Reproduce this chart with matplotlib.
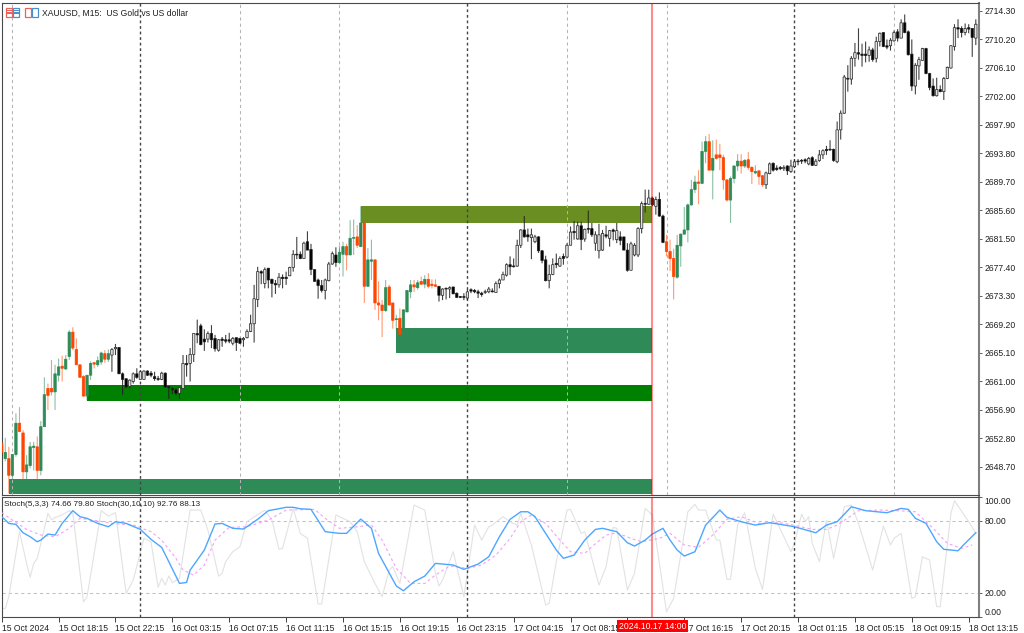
import matplotlib
matplotlib.use("Agg")
import matplotlib.pyplot as plt
from matplotlib.patches import Rectangle
import numpy as np

# XAUUSD M15 candles
opens = [
    2652.1, 2649.9, 2649.9, 2647.5, 2650.5, 2655.0, 2653.6, 2648.0, 2648.9, 2651.5,
    2651.6, 2648.2, 2654.5, 2660.0, 2660.0, 2659.5, 2661.9, 2663.2, 2662.8, 2664.6,
    2668.1, 2665.6, 2663.4, 2661.7, 2658.9, 2661.9, 2663.7, 2663.4, 2663.8, 2665.0,
    2664.2, 2664.8, 2665.7, 2665.9, 2662.1, 2661.4, 2660.3, 2661.0, 2662.1, 2661.3,
    2661.3, 2662.5, 2662.2, 2661.7, 2661.4, 2661.3, 2662.2, 2660.3, 2660.0, 2659.8,
    2659.3, 2660.0, 2663.6, 2663.6, 2664.9, 2667.9, 2669.0, 2667.1, 2667.1, 2667.9,
    2667.2, 2665.5, 2667.1, 2667.0, 2667.0, 2666.5, 2667.3, 2667.2, 2667.0, 2667.3,
    2668.2, 2669.3, 2672.8, 2676.8, 2675.1, 2677.3, 2675.7, 2675.1, 2674.9, 2676.0,
    2676.0, 2676.2, 2677.4, 2679.3, 2679.3, 2678.7, 2681.1, 2680.0, 2677.1, 2675.6,
    2674.8, 2674.1, 2675.5, 2677.9, 2679.2, 2678.1, 2679.3, 2680.4, 2679.2, 2681.6,
    2681.8, 2680.4, 2683.8, 2674.7, 2678.3, 2678.5, 2672.3, 2672.0, 2671.2, 2674.6,
    2672.3, 2669.9, 2670.1, 2668.6, 2671.0, 2673.9, 2674.9, 2674.5, 2675.4, 2675.0,
    2675.7, 2675.0, 2674.9, 2674.7, 2673.4, 2674.4, 2674.3, 2674.6, 2673.7, 2673.2,
    2673.2, 2673.0, 2674.2, 2674.1, 2673.9, 2673.7, 2673.8, 2673.9, 2674.0, 2673.8,
    2675.1, 2675.6, 2676.3, 2677.8, 2677.6, 2677.6, 2680.6, 2682.8, 2682.1, 2681.7,
    2681.1, 2681.8, 2679.8, 2678.5, 2675.5, 2676.4, 2678.0, 2677.6, 2679.0, 2678.9,
    2680.6, 2682.6, 2681.5, 2683.4, 2681.5, 2683.0, 2683.0, 2680.9, 2679.8, 2679.9,
    2682.1, 2681.6, 2682.8, 2681.4, 2681.8, 2681.8, 2679.9, 2677.0, 2679.2, 2679.2,
    2683.0, 2686.6, 2686.5, 2687.4, 2686.2, 2687.2, 2684.8, 2681.1, 2679.7, 2678.7,
    2676.0, 2680.5, 2682.2, 2682.8, 2686.4, 2688.6, 2689.7, 2689.5, 2694.1, 2695.5,
    2691.4, 2693.6, 2693.6, 2693.2, 2690.0, 2687.1, 2690.2, 2692.0, 2692.7, 2692.0,
    2692.9, 2691.8, 2691.0, 2691.3, 2690.6, 2689.3, 2690.9, 2692.4, 2691.7, 2691.8,
    2691.6, 2692.0, 2691.2, 2691.9, 2692.7, 2692.8, 2692.9, 2692.3, 2693.2, 2692.1,
    2692.8, 2693.6, 2694.4, 2694.4, 2694.4, 2692.6, 2697.2, 2699.6, 2704.6, 2704.5,
    2707.5, 2708.3, 2708.1, 2708.1, 2707.9, 2708.7, 2707.5, 2709.9, 2711.2, 2709.3,
    2709.3, 2710.0, 2711.3, 2710.4, 2712.6, 2711.3, 2708.1, 2703.5, 2706.4, 2707.2,
    2708.9, 2705.3, 2703.5, 2702.1, 2703.0, 2702.7, 2704.6, 2706.1, 2709.2, 2711.9,
    2711.8, 2711.2, 2711.9, 2711.8, 2710.4,
]
highs = [
    2652.3, 2652.9, 2651.6, 2650.5, 2656.4, 2657.3, 2654.0, 2650.4, 2652.3, 2652.3,
    2653.1, 2655.3, 2661.6, 2660.7, 2664.1, 2663.4, 2664.3, 2664.7, 2664.8, 2668.4,
    2668.8, 2667.2, 2663.4, 2661.9, 2661.9, 2663.9, 2663.8, 2664.6, 2665.3, 2665.5,
    2665.6, 2665.8, 2666.4, 2665.9, 2662.3, 2661.4, 2661.3, 2662.3, 2662.9, 2662.6,
    2662.6, 2662.6, 2662.5, 2662.4, 2661.8, 2662.4, 2662.3, 2660.3, 2660.2, 2660.1,
    2660.2, 2664.8, 2664.8, 2665.8, 2667.9, 2669.9, 2669.3, 2668.5, 2668.2, 2669.1,
    2667.7, 2667.1, 2667.4, 2667.7, 2668.0, 2667.4, 2667.3, 2667.3, 2667.4, 2668.5,
    2670.6, 2674.9, 2677.5, 2677.0, 2677.4, 2677.3, 2675.8, 2675.6, 2676.6, 2676.4,
    2676.8, 2677.5, 2679.9, 2681.8, 2679.7, 2681.1, 2682.6, 2680.8, 2677.1, 2675.8,
    2675.6, 2675.8, 2678.2, 2679.7, 2680.3, 2680.5, 2681.1, 2680.8, 2684.2, 2684.3,
    2683.5, 2686.2, 2684.0, 2680.2, 2681.4, 2678.5, 2675.4, 2672.7, 2675.6, 2674.9,
    2672.3, 2670.6, 2671.5, 2671.4, 2674.1, 2675.6, 2675.6, 2675.6, 2676.1, 2676.3,
    2676.6, 2675.7, 2675.7, 2674.7, 2674.4, 2674.5, 2674.7, 2674.6, 2673.8, 2673.3,
    2673.7, 2674.2, 2674.4, 2674.3, 2674.2, 2673.9, 2674.2, 2674.6, 2674.4, 2675.4,
    2675.8, 2676.8, 2678.0, 2679.0, 2678.7, 2681.4, 2682.9, 2684.8, 2683.0, 2683.0,
    2682.1, 2681.9, 2679.9, 2679.1, 2677.8, 2678.7, 2679.4, 2679.0, 2679.4, 2680.9,
    2683.3, 2684.1, 2684.0, 2684.0, 2683.0, 2685.6, 2683.8, 2682.6, 2683.7, 2682.8,
    2683.4, 2682.8, 2683.0, 2683.8, 2682.6, 2681.8, 2680.9, 2681.1, 2680.9, 2683.2,
    2686.9, 2688.6, 2688.6, 2687.6, 2687.6, 2688.2, 2685.0, 2682.1, 2681.4, 2680.1,
    2682.1, 2682.3, 2686.1, 2686.6, 2690.0, 2690.6, 2691.4, 2695.5, 2696.3, 2696.6,
    2695.7, 2695.8, 2695.2, 2693.6, 2690.1, 2690.5, 2692.1, 2693.7, 2693.7, 2693.0,
    2694.0, 2692.0, 2692.1, 2691.4, 2690.7, 2691.2, 2692.5, 2692.5, 2692.1, 2692.0,
    2692.1, 2692.1, 2692.9, 2693.0, 2693.0, 2693.0, 2693.1, 2693.3, 2693.4, 2693.0,
    2694.3, 2694.4, 2694.9, 2695.7, 2694.5, 2698.4, 2700.0, 2705.1, 2706.5, 2707.8,
    2709.7, 2711.8, 2709.6, 2709.9, 2709.2, 2709.0, 2710.6, 2711.2, 2711.2, 2710.2,
    2710.4, 2711.5, 2711.7, 2713.1, 2713.8, 2711.5, 2710.2, 2706.8, 2707.7, 2709.0,
    2709.0, 2705.4, 2704.6, 2704.7, 2703.6, 2704.8, 2706.3, 2709.4, 2712.4, 2713.1,
    2712.1, 2712.5, 2712.4, 2711.8, 2713.1,
]
lows = [
    2650.7, 2649.5, 2644.9, 2646.8, 2650.2, 2653.8, 2646.8, 2646.8, 2648.5, 2648.2,
    2646.8, 2647.5, 2654.5, 2656.9, 2659.0, 2656.9, 2661.0, 2661.0, 2662.7, 2664.1,
    2665.5, 2663.4, 2661.6, 2658.8, 2658.3, 2661.2, 2662.9, 2663.1, 2663.4, 2663.7,
    2663.8, 2662.4, 2664.8, 2662.1, 2659.1, 2660.0, 2660.0, 2660.7, 2661.4, 2661.3,
    2661.3, 2661.8, 2661.6, 2661.1, 2661.1, 2661.2, 2660.1, 2658.5, 2659.2, 2659.0,
    2658.5, 2660.0, 2661.7, 2661.0, 2663.8, 2666.5, 2666.2, 2665.4, 2666.6, 2665.8,
    2665.3, 2665.3, 2666.0, 2666.5, 2666.5, 2666.2, 2665.4, 2666.4, 2666.0, 2667.2,
    2668.1, 2666.6, 2671.7, 2675.0, 2674.4, 2674.4, 2673.1, 2673.6, 2674.5, 2674.4,
    2674.9, 2676.2, 2676.8, 2678.6, 2678.6, 2678.7, 2679.9, 2676.3, 2675.4, 2672.9,
    2673.8, 2672.8, 2675.4, 2677.8, 2677.5, 2678.0, 2676.1, 2677.0, 2679.2, 2679.2,
    2680.2, 2680.4, 2672.3, 2674.6, 2675.6, 2671.3, 2669.8, 2667.4, 2671.0, 2672.0,
    2668.6, 2668.4, 2667.7, 2668.6, 2671.0, 2673.0, 2673.9, 2674.2, 2674.9, 2674.4,
    2674.4, 2674.4, 2674.6, 2672.5, 2672.7, 2672.8, 2673.0, 2673.6, 2673.0, 2673.0,
    2672.7, 2672.7, 2673.7, 2673.7, 2673.0, 2673.2, 2673.6, 2673.7, 2673.8, 2673.8,
    2674.4, 2675.6, 2676.1, 2676.3, 2677.4, 2677.5, 2680.2, 2681.7, 2681.1, 2678.6,
    2680.9, 2679.5, 2678.0, 2675.4, 2674.4, 2676.3, 2677.3, 2677.5, 2677.8, 2678.7,
    2680.6, 2681.4, 2681.4, 2679.9, 2681.1, 2682.3, 2681.8, 2679.8, 2678.7, 2679.8,
    2681.6, 2680.4, 2681.3, 2680.9, 2680.6, 2679.9, 2676.8, 2677.0, 2679.0, 2678.9,
    2682.3, 2685.3, 2686.4, 2686.2, 2685.0, 2684.7, 2680.9, 2679.0, 2676.9, 2672.8,
    2675.8, 2677.5, 2682.1, 2681.0, 2686.3, 2688.1, 2686.5, 2689.4, 2692.4, 2691.4,
    2687.2, 2692.9, 2691.4, 2688.6, 2686.9, 2683.8, 2689.5, 2691.3, 2690.9, 2691.7,
    2691.4, 2689.4, 2690.8, 2689.3, 2689.0, 2688.7, 2690.8, 2691.2, 2691.3, 2691.4,
    2691.3, 2690.7, 2691.0, 2691.7, 2692.1, 2692.3, 2692.4, 2692.1, 2692.0, 2692.0,
    2692.6, 2693.0, 2693.6, 2694.2, 2692.6, 2692.4, 2695.8, 2699.5, 2702.7, 2703.7,
    2706.3, 2707.3, 2706.3, 2706.9, 2707.0, 2707.0, 2706.9, 2709.2, 2709.1, 2708.8,
    2708.6, 2709.9, 2709.9, 2710.4, 2711.1, 2707.9, 2702.8, 2702.3, 2704.4, 2707.2,
    2705.2, 2702.9, 2702.0, 2702.0, 2702.6, 2701.5, 2704.5, 2706.0, 2708.6, 2710.4,
    2710.5, 2710.8, 2711.1, 2707.7, 2709.4,
]
closes = [
    2650.8, 2650.8, 2647.5, 2650.5, 2655.0, 2653.8, 2648.0, 2649.0, 2651.6, 2651.7,
    2648.2, 2654.5, 2659.1, 2659.0, 2659.5, 2662.1, 2663.1, 2662.9, 2664.2, 2668.1,
    2665.8, 2663.4, 2661.6, 2658.9, 2661.9, 2663.6, 2663.5, 2664.0, 2665.1, 2664.2,
    2665.0, 2665.6, 2665.9, 2662.1, 2661.3, 2660.2, 2661.2, 2662.1, 2661.6, 2662.4,
    2662.5, 2661.9, 2661.9, 2661.4, 2661.3, 2662.2, 2660.2, 2660.1, 2659.8, 2659.3,
    2660.1, 2663.6, 2663.4, 2664.9, 2667.9, 2667.7, 2666.3, 2666.7, 2667.9, 2667.0,
    2665.7, 2667.0, 2666.9, 2666.8, 2666.8, 2667.2, 2666.6, 2666.5, 2667.2, 2668.2,
    2669.3, 2672.9, 2676.8, 2676.6, 2677.1, 2675.6, 2675.1, 2674.9, 2676.0, 2675.8,
    2675.8, 2677.4, 2679.3, 2679.2, 2678.7, 2680.9, 2679.9, 2677.1, 2675.4, 2674.8,
    2674.1, 2675.6, 2677.9, 2679.4, 2678.1, 2679.6, 2680.4, 2679.2, 2681.6, 2681.7,
    2680.6, 2683.8, 2674.7, 2678.5, 2678.5, 2672.3, 2672.0, 2671.2, 2674.5, 2672.0,
    2669.8, 2670.0, 2667.8, 2671.3, 2674.1, 2674.9, 2674.6, 2675.2, 2675.0, 2675.7,
    2674.7, 2674.8, 2674.7, 2673.4, 2674.3, 2674.3, 2674.5, 2673.6, 2673.1, 2673.1,
    2673.1, 2673.9, 2674.0, 2673.9, 2673.7, 2673.5, 2673.9, 2674.3, 2673.9, 2675.1,
    2675.6, 2676.4, 2677.8, 2677.5, 2677.5, 2680.6, 2682.8, 2681.8, 2681.8, 2682.1,
    2681.8, 2679.8, 2678.4, 2675.5, 2676.4, 2677.8, 2677.8, 2678.7, 2678.7, 2680.6,
    2682.5, 2682.4, 2683.4, 2681.4, 2682.9, 2682.9, 2682.1, 2682.1, 2682.1, 2682.3,
    2681.9, 2682.7, 2682.6, 2682.7, 2681.3, 2679.9, 2677.0, 2680.8, 2680.6, 2683.0,
    2686.6, 2686.5, 2687.4, 2686.4, 2687.2, 2684.8, 2681.0, 2679.7, 2678.7, 2676.1,
    2680.6, 2682.2, 2682.8, 2686.4, 2688.6, 2689.7, 2689.5, 2694.1, 2695.5, 2691.4,
    2693.1, 2693.1, 2693.2, 2690.0, 2687.1, 2690.2, 2692.0, 2692.7, 2692.0, 2692.8,
    2691.8, 2691.2, 2691.2, 2690.5, 2689.3, 2691.0, 2692.3, 2691.4, 2691.5, 2691.6,
    2691.8, 2691.3, 2692.0, 2692.6, 2692.6, 2692.7, 2692.7, 2693.1, 2692.1, 2692.7,
    2693.6, 2694.2, 2694.2, 2694.3, 2692.8, 2697.2, 2699.6, 2704.8, 2704.5, 2707.5,
    2708.3, 2708.1, 2707.9, 2707.9, 2708.7, 2707.3, 2709.9, 2711.1, 2709.2, 2709.1,
    2710.1, 2711.2, 2710.4, 2712.6, 2711.2, 2708.0, 2703.5, 2706.5, 2707.3, 2708.9,
    2705.3, 2703.3, 2702.1, 2703.0, 2702.7, 2704.6, 2706.2, 2709.3, 2711.9, 2711.7,
    2711.2, 2711.8, 2711.7, 2710.5, 2712.4,
]

# bars drawn in green / orange, everything else is black / white
colouredRanges = [(0, 30), (95, 122), (187, 214)]

# zones: first bar, last bar, lower price, upper price, colour
zoneStart = [101, 111, 24, 2]
zoneEnd = [183, 183, 183, 183]
zoneLow = [2683.85, 2665.15, 2658.2, 2644.8]
zoneHigh = [2686.25, 2668.7, 2660.5, 2646.9]
zoneColours = ["#6B8E23", "#2E8B57", "#008000", "#2E8B57"]

thinSeparators = [3, 67, 95, 159, 187, 251]
thickSeparators = [39, 131, 223]
cursorBar = 183

priceTicks = [2714.30, 2710.20, 2706.10, 2702.00, 2697.90, 2693.80, 2689.70, 2685.60, 2681.50,
              2677.40, 2673.30, 2669.20, 2665.10, 2661.00, 2656.90, 2652.80, 2648.70]
# the 17 Oct 12:15 label sits completely behind the red time box in the screenshot
timeLabels = ["15 Oct 2024", "15 Oct 18:15", "15 Oct 22:15", "16 Oct 03:15", "16 Oct 07:15",
              "16 Oct 11:15", "16 Oct 15:15", "16 Oct 19:15", "16 Oct 23:15", "17 Oct 04:15",
              "17 Oct 08:15", "", "17 Oct 16:15", "17 Oct 20:15", "18 Oct 01:15",
              "18 Oct 05:15", "18 Oct 09:15", "18 Oct 13:15"]

# stochastic lines, vertices
blueBars = [0, 2, 4, 6, 8, 10, 11, 13, 15, 17, 20, 22, 24, 27, 30, 32, 35, 39, 42, 45, 47, 50, 52, 53, 57,
            60, 62, 65, 68, 72, 75, 80, 82, 84, 87, 91, 95, 97, 101, 104, 106, 111, 113, 116, 119, 122,
            127, 130, 134, 137, 140, 143, 146, 148, 150, 153, 156, 158, 161, 164, 167, 169, 173, 176,
            178, 181, 183, 186, 188, 190, 192, 195, 198, 202, 204, 208, 212, 216, 219, 223, 227, 229,
            232, 235, 239, 243, 249, 253, 255, 257, 260, 263, 265, 269, 271, 274]
blueValues = [83.6, 78.0, 77.2, 70.2, 66.9, 62.7, 64.1, 69.1, 68.3, 78.0, 88.6, 83.6, 82.2, 78.0, 75.2,
              79.4, 78.0, 73.0, 64.7, 58.0, 46.1, 28.0, 28.8, 39.1, 55.8, 77.5, 78.0, 73.9, 73.3, 81.4,
              88.6, 91.4, 91.4, 90.2, 89.7, 71.1, 69.7, 69.7, 81.6, 73.9, 53.0, 25.8, 21.9, 29.4, 34.1,
              44.7, 43.3, 39.7, 44.1, 50.2, 66.9, 81.4, 87.7, 87.7, 83.6, 69.7, 55.8, 48.9, 51.6, 64.1,
              73.0, 73.9, 71.1, 61.9, 59.1, 64.1, 69.1, 73.9, 64.1, 55.8, 50.8, 54.4, 76.6, 89.1, 83.0,
              79.4, 76.6, 78.6, 77.2, 75.2, 71.9, 70.2, 76.6, 79.4, 91.9, 88.6, 86.9, 90.5, 89.7, 82.2,
              78.0, 62.7, 56.4, 55.2, 61.4, 70.2]
signalBars = [0, 3, 7, 11, 15, 19, 22, 27, 31, 37, 42, 45, 49, 51, 54, 57, 60, 64, 69, 75, 80, 88, 91, 95,
              100, 104, 107, 111, 115, 119, 122, 126, 131, 135, 139, 143, 146, 149, 153, 157, 160, 164,
              166, 170, 173, 177, 180, 185, 188, 192, 196, 200, 204, 208, 213, 219, 224, 228, 232, 235,
              241, 247, 252, 257, 262, 266, 270, 273]
signalValues = [86.9, 80.8, 73.0, 68.3, 66.9, 73.9, 82.2, 80.2, 78.0, 76.6, 71.1, 64.1, 48.9, 39.1, 35.0,
                43.3, 64.1, 74.7, 75.2, 80.8, 89.1, 89.7, 82.2, 73.9, 75.2, 76.6, 64.1, 40.5, 28.0, 28.0,
                35.0, 42.5, 40.5, 43.3, 51.6, 65.5, 79.4, 85.0, 78.0, 64.1, 54.4, 53.0, 58.6, 68.3, 70.2,
                65.5, 62.7, 65.5, 69.7, 60.0, 58.0, 68.3, 81.4, 83.6, 78.0, 78.6, 75.8, 73.0, 73.0, 76.6,
                88.6, 89.1, 88.6, 87.7, 73.9, 61.4, 57.2, 60.0]
fastBars = [0, 1, 2, 5, 7, 8, 9, 10, 13, 14, 15, 17, 19, 20, 23, 24, 28, 30, 32, 35, 37, 40, 42, 44, 45,
            46, 47, 48, 50, 53, 56, 58, 61, 62, 63, 65, 67, 69, 74, 76, 78, 79, 82, 84, 86, 89, 90, 94, 98,
            100, 102, 105, 107, 109, 110, 112, 116, 119, 122, 123, 124, 127, 130, 133, 135, 137, 138, 141,
            143, 145, 146, 149, 153, 154, 156, 159, 160, 163, 164, 166, 168, 170, 172, 173, 176, 178, 181,
            183, 187, 189, 193, 195, 196, 198, 201, 202, 204, 205, 207, 209, 212, 214, 217, 222, 223, 225,
            226, 227, 228, 230, 232, 234, 237, 239, 241, 245, 248, 250, 251, 253, 256, 257, 259, 261, 263,
            264, 267, 268, 272, 274]
fastValues = [7.2, 7.2, 16.9, 71.1, 44.7, 33.0, 44.7, 48.9, 86.4, 80.8, 83.0, 85.0, 88.6, 86.4, 12.7, 16.9,
              88.6, 84.1, 86.9, 19.7, 30.8, 65.5, 62.7, 24.7, 32.2, 26.6, 34.1, 28.6, 32.2, 89.1, 89.1,
              72.5, 34.1, 36.4, 46.1, 54.4, 58.6, 79.4, 89.1, 80.8, 56.4, 57.2, 90.5, 69.7, 65.5, 10.8,
              10.8, 85.0, 79.4, 71.1, 46.1, 28.0, 16.9, 39.1, 41.9, 28.0, 93.3, 89.1, 36.4, 25.8, 30.8,
              54.4, 16.9, 76.6, 64.1, 75.2, 76.6, 83.6, 79.4, 76.6, 86.4, 60.0, 10.0, 11.4, 46.1, 89.1,
              89.7, 69.7, 71.1, 48.9, 26.6, 41.9, 74.7, 73.9, 22.5, 36.4, 90.5, 85.0, 4.4, 15.5, 87.7,
              93.9, 89.1, 89.1, 64.1, 64.1, 31.4, 31.4, 76.6, 86.9, 40.5, 23.0, 85.8, 54.4, 61.4, 85.8,
              79.4, 83.6, 61.4, 46.1, 80.8, 48.9, 91.9, 93.3, 78.0, 39.1, 75.8, 60.0, 65.5, 69.7, 15.5,
              16.9, 50.2, 47.5, 8.6, 8.6, 86.4, 96.9, 79.4, 69.7]
stochTicks = [100, 80, 20, 0]

FONT = "Liberation Sans"
TEXT_SIZE = 6.2
W, H = 1024, 633


def paneBox(left, top, right, bottom):
    return [left / W, 1 - bottom / H, (right - left) / W, (bottom - top) / H]


def isColoured(i):
    for first, last in colouredRanges:
        if first <= i <= last:
            return True
    return False


plt.rcParams["font.family"] = FONT
plt.rcParams["font.size"] = TEXT_SIZE

fig = plt.figure(figsize=(W / 100, H / 100), dpi=100, facecolor="white")
ax = fig.add_axes(paneBox(1.5, 3, 979, 494.5))
sub = fig.add_axes(paneBox(1.5, 497, 979, 617))

# candles, left unsnapped so they blur a bit like the downscaled screenshot
bars = np.arange(len(opens))
for i in bars:
    up = closes[i] >= opens[i]
    if isColoured(i):
        colour = "#2E8B57" if up else "#FF4500"
        face, edge, wickAlpha = colour, colour, 0.55
    else:
        face, edge, wickAlpha = ("#e2e2e2" if up else "black"), "#202020", 0.85
    wick = ax.vlines(i, lows[i], highs[i], color=edge, lw=0.8, alpha=wickAlpha, zorder=4)
    wick.set_snap(False)
    body = ax.bar(i, max(abs(closes[i] - opens[i]), 0.12), bottom=min(opens[i], closes[i]), width=0.68,
                  facecolor=face, edgecolor=edge, linewidth=0.5, zorder=5)
    body[0].set_snap(False)

# supply / demand zones
for start, end, low, high, colour in zip(zoneStart, zoneEnd, zoneLow, zoneHigh, zoneColours):
    ax.add_patch(Rectangle((start, low), end - start, high - low, facecolor=colour,
                           edgecolor="none", zorder=2))

for x in thinSeparators:
    ax.axvline(x, color="#b4b4b4", lw=0.75, ls=(0, (3, 3)), zorder=3)
for x in thickSeparators:
    ax.axvline(x, color="#444444", lw=1.0, ls=(0, (2, 2)), zorder=3)
    sub.axvline(x, color="#444444", lw=1.0, ls=(0, (2, 2)), zorder=3)
ax.axvline(cursorBar, color="red", lw=1.5, alpha=0.45, zorder=6)
sub.axvline(cursorBar, color="red", lw=1.5, alpha=0.45, zorder=6)

ax.set_xlim(-0.06, 274.9)
ax.set_ylim(2644.74, 2715.45)
ax.set_xticks([])
ax.yaxis.tick_right()
ax.set_yticks(priceTicks)
ax.set_yticklabels(["%.2f" % p for p in priceTicks])

# stochastics pane
sub.axhline(80, color="#c0c0c0", lw=0.75, ls=(0, (3, 3)), zorder=1)
sub.axhline(20, color="#c0c0c0", lw=0.75, ls=(0, (3, 3)), zorder=1)
sub.plot(fastBars, fastValues, color="#e2e2e2", lw=0.8, zorder=2)
sub.plot(signalBars, signalValues, color="#f4a0f4", lw=0.8, ls=(0, (2.5, 2.5)), zorder=3)
sub.plot(blueBars, blueValues, color="#4da6ff", lw=1.0, zorder=4)
sub.set_xlim(-0.06, 274.9)
sub.set_ylim(0, 100)
sub.yaxis.tick_right()
sub.set_yticks(stochTicks)
sub.set_yticklabels(["%.2f" % v for v in stochTicks])
sub.get_yticklabels()[0].set_va("top")
sub.get_yticklabels()[3].set_va("bottom")

sub.set_xticks(16 * np.arange(len(timeLabels)))
sub.set_xticklabels(timeLabels, ha="left")

for pane in (ax, sub):
    for side in ("top", "left", "bottom"):
        pane.spines[side].set_color("#4a4a4a")
        pane.spines[side].set_linewidth(0.8)
    pane.spines["right"].set_color("#808080")
    pane.spines["right"].set_linewidth(1.5)
    pane.tick_params(axis="y", length=2.5, width=0.7, color="#606060", pad=1.5,
                     labelsize=TEXT_SIZE, labelcolor="#202020")
    pane.set_facecolor("white")
sub.tick_params(axis="x", length=3.6, width=0.7, color="#404040", pad=1.2,
                labelsize=TEXT_SIZE, labelcolor="#202020")

# red time label under the cursor line
sub.annotate("2024.10.17 14:00", xy=(cursorBar, 0), xytext=(0, -6.8), textcoords="offset points",
             ha="center", va="center", color="white", fontsize=TEXT_SIZE, annotation_clip=False, zorder=10,
             bbox=dict(boxstyle="square,pad=0.18", facecolor="red", edgecolor="red", linewidth=0))

fig.text(42 / W, 1 - 13 / H, "XAUUSD, M15:  US Gold vs US dollar", fontsize=TEXT_SIZE, color="#202020",
         va="center", ha="left", zorder=10)
fig.text(4 / W, 1 - 505 / H, "Stoch(5,3,3) 74.66 79.80 Stoch(30,10,10) 92.76 88.13", fontsize=5.9,
         color="#202020", va="center", ha="left", zorder=10)

# the two small toolbar icons next to the title
for left, colour in ((5.5, "#f0605a"), (12.5, "#4a90d0"), (24.5, "#f0605a"), (31.5, "#4a90d0")):
    fig.add_artist(Rectangle((left / W, 1 - 17 / H), 6.5 / W, 9 / H, transform=fig.transFigure,
                             facecolor="white", edgecolor=colour, linewidth=0.9))
for left, colour in ((6.5, "#f0605a"), (13, "#4a90d0")):
    for top in (11, 13.5):
        fig.add_artist(Rectangle((left / W, 1 - top / H), 5.5 / W, 1 / H, transform=fig.transFigure,
                                 facecolor=colour, edgecolor="none"))

fig.savefig("out.png", dpi=100)
